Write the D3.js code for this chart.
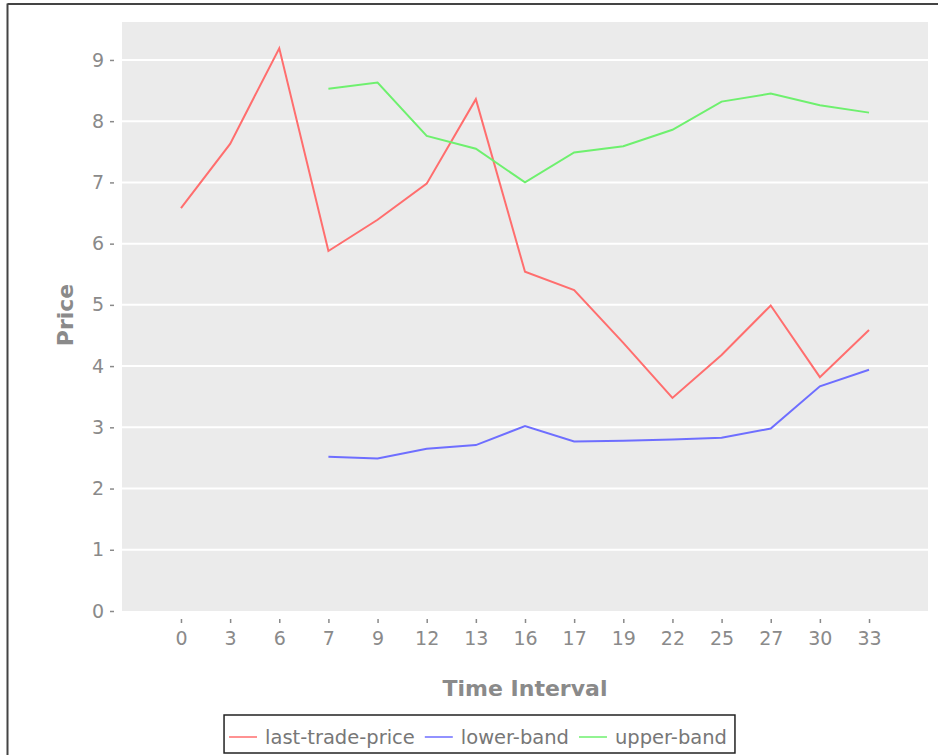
<!DOCTYPE html>
<html>
<head>
<meta charset="utf-8">
<script src="https://cdn.jsdelivr.net/npm/d3@7"></script>
<style>
  html, body { margin: 0; padding: 0; background: #ffffff; }
  svg { display: block; }
</style>
</head>
<body>
<svg id="chart" width="938" height="755"></svg>
<script>
const categories = ["0","3","6","7","9","12","13","16","17","19","22","25","27","30","33"];
const lastTradePrice = [6.58, 7.63, 9.19, 5.88, 6.39, 6.98, 8.36, 5.54, 5.24, 4.38, 3.48, 4.18, 4.99, 3.82, 4.59];
const lowerBand = [null, null, null, 2.52, 2.49, 2.65, 2.71, 3.02, 2.77, 2.78, 2.80, 2.83, 2.98, 3.67, 3.94];
const upperBand = [null, null, null, 8.53, 8.63, 7.76, 7.55, 7.00, 7.49, 7.59, 7.86, 8.32, 8.45, 8.26, 8.14];
const yTicks = [0, 1, 2, 3, 4, 5, 6, 7, 8, 9];
const seriesNames = ["last-trade-price", "lower-band", "upper-band"];
const seriesColors = ["#ff6e6e", "#6e6eff", "#6ef06e"];
const xTitle = "Time Interval";
const yTitle = "Price";

const series = [lastTradePrice, lowerBand, upperBand];

const svg = d3.select("#chart");
const plot = { left: 122, right: 928, top: 22, bottom: 611 };
const textColor = "#8a8a8a";
const font = "DejaVu Sans, Verdana, sans-serif";

// frame
svg.append("line").attr("x1", 7.5).attr("x2", 7.5).attr("y1", 3.5).attr("y2", 755)
  .attr("stroke", "#444").attr("stroke-width", 2);
svg.append("line").attr("x1", 7.5).attr("x2", 938).attr("y1", 4).attr("y2", 4)
  .attr("stroke", "#444").attr("stroke-width", 2);

const x = d3.scalePoint().domain(categories).range([plot.left, plot.right]).padding(1.2);
const y = d3.scaleLinear().domain([0, 9.62]).range([plot.bottom, plot.top]);

// background
svg.append("rect").attr("x", plot.left).attr("y", plot.top)
  .attr("width", plot.right - plot.left).attr("height", plot.bottom - plot.top)
  .attr("fill", "#ebebeb");

// gridlines
svg.append("g").selectAll("line").data(yTicks.filter(d => d > 0)).join("line")
  .attr("x1", plot.left).attr("x2", plot.right)
  .attr("y1", d => y(d)).attr("y2", d => y(d))
  .attr("stroke", "#ffffff").attr("stroke-width", 2);

// y axis
const yAxis = d3.axisLeft(y).tickValues(yTicks).tickSize(4).tickPadding(6).tickFormat(d3.format("d"));
const gy = svg.append("g").attr("transform", `translate(${plot.left - 8},0)`).call(yAxis);
gy.select(".domain").remove();
gy.selectAll(".tick line").attr("stroke", textColor).attr("stroke-width", 1.5);
gy.selectAll(".tick text").attr("fill", textColor).attr("font-family", font).attr("font-size", 19);

// x axis
const xAxis = d3.axisBottom(x).tickSize(4).tickPadding(9);
const gx = svg.append("g").attr("transform", `translate(0,${plot.bottom + 8})`).call(xAxis);
gx.select(".domain").remove();
gx.selectAll(".tick line").attr("stroke", textColor).attr("stroke-width", 1.5);
gx.selectAll(".tick text").attr("fill", textColor).attr("font-family", font).attr("font-size", 19);

// titles
svg.append("text").attr("x", (plot.left + plot.right) / 2).attr("y", 696)
  .attr("text-anchor", "middle").attr("fill", textColor)
  .attr("font-family", font).attr("font-weight", "bold").attr("font-size", 22)
  .text(xTitle);
svg.append("text").attr("transform", `translate(73,315) rotate(-90)`)
  .attr("text-anchor", "middle").attr("fill", textColor)
  .attr("font-family", font).attr("font-weight", "bold").attr("font-size", 22)
  .text(yTitle);

// lines
const line = d3.line()
  .defined(d => d.v !== null)
  .x(d => x(d.c)).y(d => y(d.v));
series.forEach((s, i) => {
  const data = categories.map((c, j) => ({ c, v: s[j] }));
  svg.append("path").datum(data).attr("d", line)
    .attr("fill", "none").attr("stroke", seriesColors[i]).attr("stroke-width", 2)
    .attr("stroke-linejoin", "miter");
});

// legend
const lg = svg.append("g");
const legendY = 737;
let cx = 0;
seriesNames.forEach((name, i) => {
  const g = lg.append("g");
  g.append("line").attr("x1", cx + 5).attr("x2", cx + 33).attr("y1", legendY).attr("y2", legendY)
    .attr("stroke", seriesColors[i]).attr("stroke-width", 1.5);
  const t = g.append("text").attr("x", cx + 41).attr("y", legendY).attr("dy", "0.35em")
    .attr("fill", "#777").attr("font-family", font).attr("font-size", 19.5).text(name);
  const w = t.node().getComputedTextLength();
  cx += 41 + w + 5;
});
const legendW = cx + 3;
const legendX = 479.5 - legendW / 2;
lg.attr("transform", `translate(${legendX},0)`);
lg.insert("rect", ":first-child").attr("x", 0).attr("y", 715)
  .attr("width", legendW).attr("height", 38)
  .attr("fill", "#ffffff").attr("stroke", "#222").attr("stroke-width", 1.5);
</script>
</body>
</html>
